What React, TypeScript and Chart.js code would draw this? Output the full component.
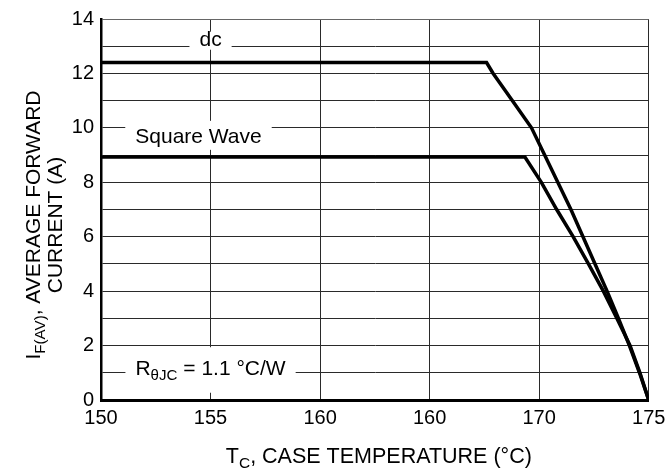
import React, { useEffect, useRef } from 'react';
import { Chart, registerables } from 'chart.js';

Chart.register(...registerables);

// ---- data ----
const xTickValues = [150, 155, 160, 165, 170, 175];
const xTickLabels = ['150', '155', '160', '160', '170', '175'];
const yTickLabels = ['0', '2', '4', '6', '8', '10', '12', '14'];

const dcTemp = [150, 167.6, 167.9, 168.78, 169.65, 170.25, 170.85, 171.45, 172.0, 172.55, 173.1, 173.62, 174.12, 174.58, 175];
const dcCurrent = [12.4, 12.4, 12.0, 11.0, 10.0, 9.0, 8.0, 7.0, 6.0, 5.0, 4.0, 3.0, 2.0, 1.0, 0];

const sqTemp = [150, 169.35, 170.1, 170.8, 171.55, 172.25, 172.93, 173.55, 174.15, 174.6, 175];
const sqCurrent = [8.93, 8.93, 8.0, 7.0, 6.0, 5.0, 4.0, 3.0, 2.0, 1.0, 0];

const noteLabels = ['dc', 'Square Wave', 'Rθ'];
// ---------------------------------------

const FONT = '"Liberation Sans", Arial, Helvetica, sans-serif';

type Seg = { t: string; sub?: boolean };

function measureRich(ctx: CanvasRenderingContext2D, segs: Seg[], size: number) {
  let w = 0;
  for (const s of segs) {
    ctx.font = `${s.sub ? size * 0.72 : size}px ${FONT}`;
    w += ctx.measureText(s.t).width;
  }
  return w;
}

function drawRich(ctx: CanvasRenderingContext2D, segs: Seg[], x: number, y: number, size: number, subDrop: number) {
  const w = measureRich(ctx, segs, size);
  let cx = x - w / 2;
  ctx.textAlign = 'left';
  ctx.textBaseline = 'alphabetic';
  ctx.fillStyle = '#000';
  for (const s of segs) {
    ctx.font = `${s.sub ? size * 0.72 : size}px ${FONT}`;
    ctx.fillText(s.t, cx, y + (s.sub ? subDrop : 0));
    cx += ctx.measureText(s.t).width;
  }
  return w;
}

const notes = [
  { segs: [{ t: noteLabels[0] }], x: 155, y: 13, top: -14.5, bottom: 3.5 },
  { segs: [{ t: noteLabels[1] }], x: 154.45, y: 9.45, top: -22, bottom: 7 },
  {
    segs: [{ t: 'R' }, { t: 'θJC', sub: true }, { t: ' = 1.1 °C/W' }],
    x: 155,
    y: 0.91,
    top: -28,
    bottom: 17.5,
  },
];

const annotPlugin = {
  id: 'annot',
  beforeDatasetsDraw(chart: any) {
    const ctx: CanvasRenderingContext2D = chart.ctx;
    const xs = chart.scales.x;
    const ys = chart.scales.y;
    ctx.save();
    for (const n of notes) {
      const px = xs.getPixelForValue(n.x);
      const py = ys.getPixelForValue(n.y);
      const w = measureRich(ctx, n.segs as Seg[], 21);
      ctx.fillStyle = '#fff';
      ctx.fillRect(px - w / 2 - 10, py + n.top, w + 20, n.bottom - n.top);
      drawRich(ctx, n.segs as Seg[], px, py, 21, 5);
    }
    ctx.restore();
  },
  afterDraw(chart: any) {
    const ctx: CanvasRenderingContext2D = chart.ctx;
    const area = chart.chartArea;
    ctx.save();
    // x title
    const cxm = (area.left + area.right) / 2 + 4;
    drawRich(ctx, [{ t: 'T' }, { t: 'C', sub: true }, { t: ', CASE TEMPERATURE (°C)' }], cxm, 463, 21.5, 5);
    // y title
    const cy = 225;
    ctx.translate(40, cy);
    ctx.rotate(-Math.PI / 2);
    drawRich(ctx, [{ t: 'I' }, { t: 'F(AV)', sub: true }, { t: ', AVERAGE FORWARD' }], 0, 0, 21, 5);
    ctx.rotate(Math.PI / 2);
    ctx.translate(21.5, 0);
    ctx.rotate(-Math.PI / 2);
    drawRich(ctx, [{ t: 'CURRENT (A)' }], 0, 0, 21, 5);
    ctx.restore();
  },
};

export default function App() {
  const ref = useRef<HTMLCanvasElement | null>(null);

  useEffect(() => {
    if (!ref.current) return;
    const chart = new Chart(ref.current, {
      type: 'line',
      data: {
        datasets: [
          {
            label: 'dc',
            data: dcTemp.map((t, i) => ({ x: t, y: dcCurrent[i] })),
            borderColor: '#000',
            borderWidth: 3.5,
            pointRadius: 0,
            tension: 0,
            fill: false,
          },
          {
            label: 'Square Wave',
            data: sqTemp.map((t, i) => ({ x: t, y: sqCurrent[i] })),
            borderColor: '#000',
            borderWidth: 3.5,
            pointRadius: 0,
            tension: 0,
            fill: false,
          },
        ],
      },
      options: {
        responsive: false,
        animation: false,
        layout: { padding: { top: 15, right: 23.3, left: 0, bottom: 0 } },
        plugins: { legend: { display: false }, tooltip: { enabled: false } },
        scales: {
          x: {
            type: 'linear',
            min: 150,
            max: 175,
            afterBuildTicks: (s: any) => {
              s.ticks = xTickValues.map((v) => ({ value: v }));
            },
            afterFit: (s: any) => {
              s.height = 71;
            },
            ticks: {
              callback: (_v: any, i: number) => xTickLabels[i],
              font: { family: FONT, size: 20 },
              color: '#000',
              padding: 6,
              maxRotation: 0,
              autoSkip: false,
            },
            grid: { color: '#2a2a2a', lineWidth: 1, drawTicks: false },
            border: { color: '#000', width: 3 },
          },
          y: {
            type: 'linear',
            min: 0,
            max: 14,
            afterFit: (s: any) => {
              s.width = 101;
            },
            ticks: {
              stepSize: 1,
              callback: (v: any) => (Number(v) % 2 === 0 ? yTickLabels[Number(v) / 2] : ''),
              font: { family: FONT, size: 20 },
              color: '#000',
              padding: 7,
              autoSkip: false,
            },
            grid: {
              color: (c: any) => (c.tick && c.tick.value === 14 ? '#666' : '#2a2a2a'),
              lineWidth: 1,
              drawTicks: false,
            },
            border: { color: '#000', width: 2.5 },
          },
        },
      },
      plugins: [annotPlugin],
    } as any);
    return () => chart.destroy();
  }, []);

  return (
    <div style={{ position: 'fixed', left: 0, top: 0, width: 672, height: 471, background: '#fff' }}>
      <canvas ref={ref} width={672} height={471} style={{ display: 'block' }} />
    </div>
  );
}
